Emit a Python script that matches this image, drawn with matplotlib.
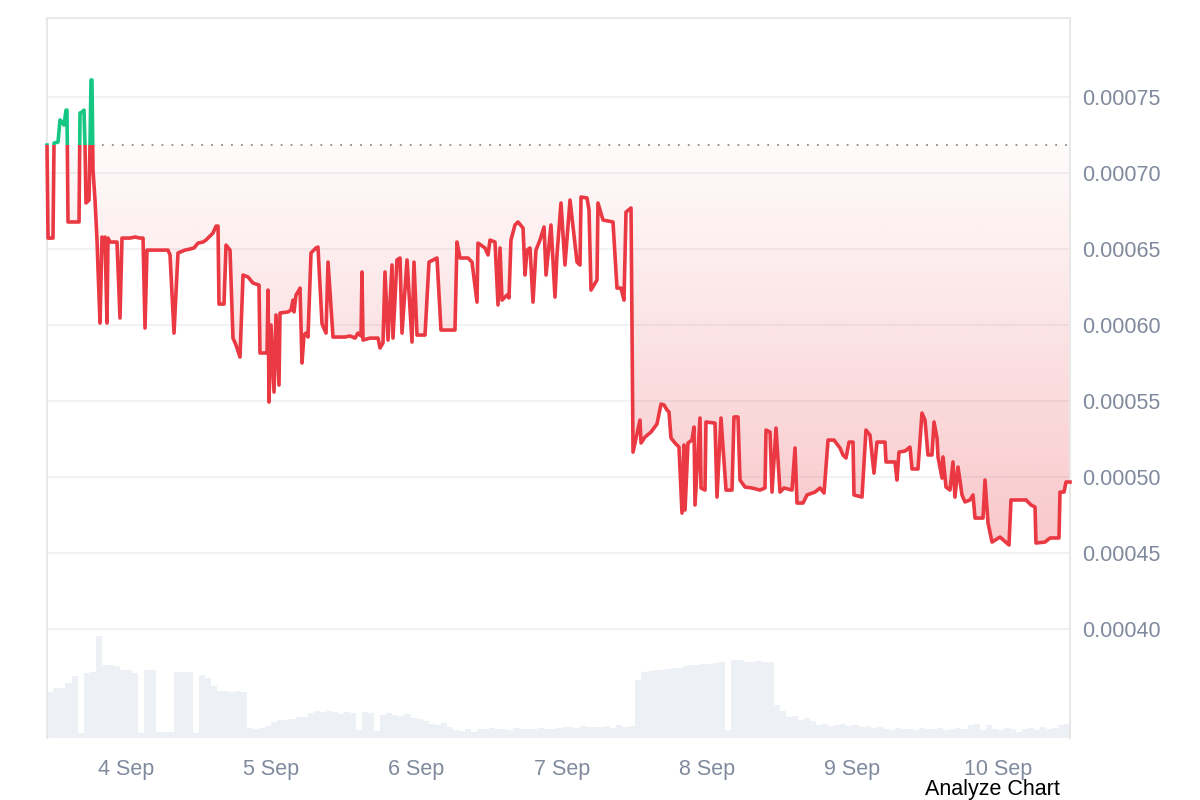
import numpy as np
import matplotlib
matplotlib.use('Agg')
import matplotlib.pyplot as plt
from matplotlib.colors import to_rgb
from matplotlib.patches import Rectangle
from matplotlib.path import Path

plt.rcParams['font.family'] = ['Liberation Sans', 'DejaVu Sans']

# hours since 4 Sep 00:00
hours = [-13.05, -12.88, -12.06, -11.89, -11.23, -10.90, -10.57, -10.24, -9.91, -9.75,
         -9.58, -7.76, -7.60, -7.27, -6.94, -6.77, -6.61, -6.11, -5.95, -5.78,
         -5.62, -5.45, -5.12, -4.79, -4.63, -4.29, -3.96, -3.63, -3.47, -3.14,
         -2.97, -2.64, -1.49, -0.99, -0.66, 0.66, 1.49, 2.31, 2.81, 3.14,
         3.47, 5.62, 6.94, 7.27, 7.93, 8.59, 9.75, 10.57, 11.23, 11.89,
         12.72, 13.21, 13.88, 14.37, 14.87, 15.20, 15.36, 16.19, 16.52, 17.18,
         17.67, 18.17, 18.83, 19.33, 20.15, 20.98, 21.97, 22.13, 23.29, 23.46,
         23.62, 23.95, 24.45, 24.78, 25.27, 25.44, 26.76, 27.25, 27.59, 27.75,
         28.08, 28.58, 28.74, 29.07, 29.40, 29.73, 30.06, 30.56, 31.38, 31.71,
         32.38, 33.04, 33.37, 34.19, 36.17, 37.00, 37.83, 38.32, 38.82, 38.98,
         39.15, 40.30, 41.63, 41.96, 42.45, 42.78, 43.28, 43.94, 44.10, 44.76,
         45.26, 45.59, 46.42, 47.24, 47.57, 48.07, 49.39, 50.05, 51.37, 52.03,
         53.52, 54.34, 54.67, 55.17, 56.49, 57.15, 57.98, 58.14, 59.30, 59.80,
         60.13, 60.95, 61.45, 61.78, 62.11, 62.93, 63.26, 63.59, 64.25, 64.75,
         65.58, 65.91, 66.24, 66.73, 67.23, 67.72, 68.38, 69.05, 69.38, 70.20,
         70.86, 71.19, 71.85, 72.51, 73.34, 74.50, 74.99, 75.16, 76.15, 76.48,
         76.81, 77.80, 77.96, 78.79, 80.44, 81.10, 81.76, 82.26, 82.59, 83.42,
         83.75, 84.90, 85.07, 85.73, 86.72, 87.71, 88.37, 88.87, 89.36, 89.69,
         90.02, 90.68, 91.34, 91.84, 92.17, 92.34, 92.83, 93.49, 93.82, 93.99,
         94.81, 94.98, 95.64, 95.80, 97.29, 97.62, 98.28, 99.11, 100.10, 100.43,
         101.09, 101.42, 102.25, 103.40, 104.72, 105.55, 105.72, 106.38, 106.71, 107.37,
         108.03, 108.69, 110.01, 110.51, 110.84, 111.83, 112.49, 113.81, 114.64, 115.30,
         115.96, 116.95, 117.94, 118.43, 118.93, 119.43, 120.09, 120.25, 121.57, 122.23,
         122.89, 123.55, 124.05, 125.37, 125.54, 127.02, 127.35, 127.68, 128.68, 129.50,
         129.83, 130.82, 131.48, 131.98, 132.47, 133.13, 133.47, 133.96, 134.13, 134.79,
         134.95, 135.45, 136.11, 136.60, 136.93, 137.43, 138.09, 138.59, 139.41, 139.91,
         140.24, 141.56, 141.89, 142.39, 143.05, 144.37, 145.85, 146.18, 148.66, 149.49,
         150.15, 150.31, 151.80, 152.63, 154.11, 154.28, 154.94, 155.27, 155.93]

# price in units of 1e-5
price_e5 = [71.84, 65.72, 65.72, 71.97, 72.04, 73.49, 73.36, 73.16, 74.14, 74.14,
            66.78, 66.78, 73.95, 74.01, 74.14, 71.84, 68.03, 68.22, 71.84, 76.12,
            76.12, 70.20, 68.22, 65.59, 63.75, 60.13, 65.79, 65.59, 65.79, 60.13,
            65.72, 65.46, 65.46, 60.46, 65.72, 65.72, 65.79, 65.72, 65.72, 59.80,
            64.93, 64.93, 64.93, 64.61, 59.47, 64.74, 64.93, 65.00, 65.07, 65.39,
            65.46, 65.59, 65.86, 66.05, 66.51, 66.51, 61.38, 61.38, 65.26, 64.93,
            59.14, 58.68, 57.89, 63.29, 63.16, 62.76, 62.63, 58.16, 58.16, 62.30,
            54.93, 60.00, 55.59, 60.66, 56.05, 60.79, 60.86, 60.99, 61.64, 60.86,
            61.97, 62.30, 62.43, 57.50, 59.34, 59.47, 59.21, 64.74, 65.07, 65.13,
            60.07, 59.47, 64.14, 59.21, 59.21, 59.28, 59.14, 59.47, 59.28, 63.49,
            59.01, 59.14, 59.14, 58.49, 58.82, 63.49, 59.01, 63.95, 59.14, 64.28,
            64.41, 59.47, 64.28, 58.88, 64.14, 59.34, 59.34, 64.14, 64.41, 59.67,
            59.67, 59.67, 65.46, 64.41, 64.41, 64.14, 61.51, 65.39, 65.07, 64.61,
            65.59, 65.46, 61.32, 65.07, 61.64, 61.97, 61.78, 65.59, 66.58, 66.78,
            66.38, 63.29, 64.93, 65.07, 61.51, 64.93, 65.59, 66.45, 63.29, 66.58,
            61.84, 64.61, 68.03, 63.95, 68.22, 64.14, 63.95, 68.42, 68.36, 67.57,
            62.30, 62.96, 68.03, 66.91, 66.78, 62.43, 62.43, 61.64, 67.43, 67.70,
            51.64, 53.75, 52.24, 52.63, 52.96, 53.49, 54.80, 54.74, 54.41, 54.28,
            52.57, 52.24, 51.97, 47.63, 52.11, 47.83, 52.24, 52.43, 53.29, 48.16,
            53.88, 49.28, 49.14, 53.62, 53.55, 48.68, 53.88, 49.14, 49.14, 53.95,
            53.95, 49.80, 49.34, 49.28, 49.14, 49.28, 53.09, 52.96, 49.01, 53.22,
            49.01, 49.28, 49.14, 51.91, 48.29, 48.29, 48.82, 49.01, 49.28, 48.95,
            52.43, 52.43, 51.91, 51.45, 51.25, 52.30, 52.30, 48.82, 48.68, 53.09,
            52.76, 50.26, 52.30, 52.30, 50.99, 50.99, 49.80, 51.64, 51.71, 51.97,
            50.53, 50.53, 54.21, 53.75, 51.45, 51.45, 53.62, 52.57, 51.32, 49.93,
            51.32, 49.34, 49.14, 50.99, 48.68, 50.66, 48.82, 48.36, 48.49, 48.82,
            47.30, 47.30, 49.80, 46.97, 45.72, 46.05, 45.53, 48.49, 48.49, 48.16,
            48.03, 45.66, 45.72, 45.99, 45.99, 49.01, 49.01, 49.67, 49.67]

# hourly volume (thousand USD), first bar starts at -13 h
volume_k = [46, 50, 50, 55, 62, 5, 65, 66, 102, 73, 73, 72, 68, 68, 65, 5, 68, 68, 6, 6,
            6, 66, 66, 66, 5, 63, 60, 52, 47, 47, 46, 47, 46, 10, 9, 10, 12, 16, 18, 18,
            19, 21, 21, 25, 27, 26, 27, 26, 24, 26, 25, 8, 26, 25, 7, 23, 25, 23, 22, 24,
            20, 19, 17, 14, 13, 15, 11, 8, 7, 9, 6, 9, 9, 10, 9, 9, 8, 10, 9, 9,
            9, 10, 9, 9, 10, 11, 11, 10, 12, 11, 11, 11, 12, 10, 13, 11, 12, 58, 66, 67,
            68, 68, 69, 70, 70, 72, 73, 73, 74, 74, 75, 76, 8, 78, 78, 76, 76, 77, 76, 76,
            33, 27, 21, 22, 18, 20, 17, 13, 14, 12, 13, 14, 12, 13, 11, 12, 10, 11, 9, 8,
            10, 9, 9, 8, 10, 9, 9, 10, 8, 9, 10, 9, 13, 14, 8, 13, 9, 8, 10, 9,
            6, 9, 10, 8, 11, 9, 10, 13, 14]

tick_hours = [0, 24, 48, 72, 96, 120, 144]
tick_labels = ['4 Sep', '5 Sep', '6 Sep', '7 Sep', '8 Sep', '9 Sep', '10 Sep']
y_ticks = [0.00040, 0.00045, 0.00050, 0.00055, 0.00060, 0.00065, 0.00070, 0.00075]

red = '#ea3943'
green = '#16c784'
grey = '#808a9d'

t = np.array(hours)
p = np.array(price_e5) * 1e-5
ref = p[0]
vol = np.array(volume_k)
vol_t = np.arange(-13, -13 + len(vol))

t0, t1 = -13.05, 155.93
y0, y1 = 0.0003283, 0.000802

fig = plt.figure(figsize=(12, 8), dpi=100)
ax = fig.add_axes([47 / 1200, 1 - 738 / 800, 1023 / 1200, 720 / 800])
ax2 = ax.twinx()
ax.set_zorder(ax2.get_zorder() + 1)
ax.patch.set_visible(False)

# volume
ax2.bar(vol_t, vol, width=1.0, align='edge', color='#edf0f4', linewidth=0)
ax2.set_ylim(0, vol.max() / 0.1417)
ax2.set_yticks([])
for s in ax2.spines.values():
    s.set_visible(False)

# gradient fill between price and first price
def grad_fill(lo, hi, color, a_lo, a_hi):
    poly = ax.fill_between(t, lo, hi, color='none', lw=0)
    path = Path.make_compound_path(*poly.get_paths())
    g = np.zeros((256, 1, 4))
    g[..., :3] = to_rgb(color)
    g[..., 3] = np.linspace(a_lo, a_hi, 256)[:, None]
    im = ax.imshow(g, extent=[t0, t1, min(lo.min(), hi.min()), max(lo.max(), hi.max())],
                   origin='lower', aspect='auto', zorder=1, interpolation='bilinear')
    im.set_clip_path(path, transform=ax.transData)

grad_fill(np.minimum(p, ref), np.full_like(p, ref), red, 0.28, 0.02)
grad_fill(np.full_like(p, ref), np.maximum(p, ref), green, 0.02, 0.2)

# dotted reference line from the last point above it
last_up = t[np.nonzero(p > ref)[0].max()]
ax.hlines(ref, last_up, t1, color='#8c8c8c', lw=1.3, linestyle=(0, (1, 4.5)), zorder=2)

ln_r, = ax.plot(t, p, color=red, lw=2.6, zorder=3, solid_joinstyle='round')
ln_r.set_clip_path(Rectangle((t0 - 5, 0), t1 - t0 + 10, ref, transform=ax.transData))
ln_g, = ax.plot(t, p, color=green, lw=2.6, zorder=3, solid_joinstyle='round')
ln_g.set_clip_path(Rectangle((t0 - 5, ref), t1 - t0 + 10, 0.001, transform=ax.transData))

ax.set_xlim(t0, t1)
ax.set_ylim(y0, y1)

ax.yaxis.tick_right()
ax.set_yticks(y_ticks)
ax.set_yticklabels(['%.5f' % v for v in y_ticks])
ax.set_xticks(tick_hours)
ax.set_xticklabels(tick_labels)
ax.tick_params(axis='y', length=0, pad=9, labelsize=15.5, labelcolor=grey)
ax.tick_params(axis='x', length=0, pad=15, labelsize=15.5, labelcolor=grey)
ax.grid(axis='y', color='#eff2f5', lw=1.3)
ax.set_axisbelow(True)

for k in ['top', 'left', 'right']:
    ax.spines[k].set_color('#e8e8e8')
    ax.spines[k].set_linewidth(1.5)
ax.spines['bottom'].set_visible(False)

fig.text(1060 / 1200, 1 - 790 / 800, 'Analyze Chart', ha='right', va='center',
         fontsize=15.5, color='black')

fig.savefig('out.png', dpi=100)
